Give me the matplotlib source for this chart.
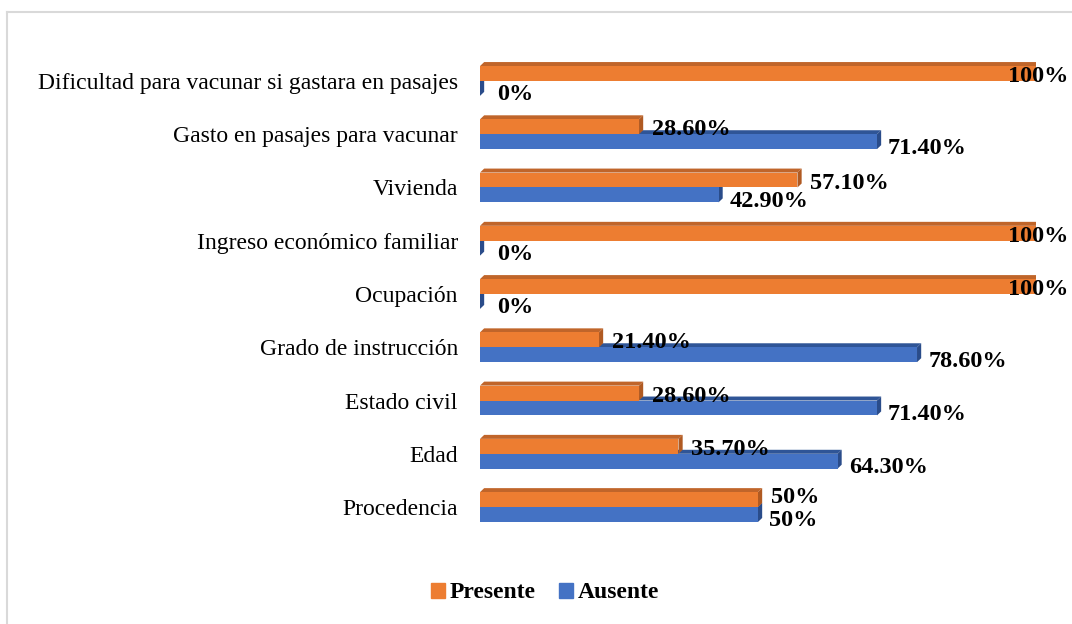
import numpy as np
import matplotlib.pyplot as plt
from matplotlib.patches import Polygon, Patch
from matplotlib.lines import Line2D

# data, bottom to top as drawn
categorias = ['Procedencia', 'Edad', 'Estado civil', 'Grado de instrucción',
              'Ocupación', 'Ingreso económico familiar', 'Vivienda',
              'Gasto en pasajes para vacunar',
              'Dificultad para vacunar si gastara en pasajes']
presente = [50, 35.7, 28.6, 21.4, 100, 100, 57.1, 28.6, 100]
ausente = [50, 64.3, 71.4, 78.6, 0, 0, 42.9, 71.4, 0]
etiq_presente = ['50%', '35.70%', '28.60%', '21.40%', '100%', '100%', '57.10%', '28.60%', '100%']
etiq_ausente = ['50%', '64.30%', '71.40%', '78.60%', '0%', '0%', '42.90%', '71.40%', '0%']

plt.rcParams['font.family'] = ['Liberation Serif', 'DejaVu Serif']

fig = plt.figure(figsize=(10.72, 6.24), dpi=100)
ax = fig.add_axes([480 / 1072, (624 - 539) / 624, 556 / 1072, (539 - 49) / 624])
ax.set_xlim(0, 100)
ax.set_ylim(-0.6, 8.6)

h = 0.28      # bar thickness
dx = 0.75     # 3D depth in x (data units)
dy = 0.075    # 3D depth in y


def bar3d(y0, v, front, top, side):
    # y0 = bottom of the front face
    ax.add_patch(Polygon([(0, y0 + h), (v, y0 + h), (v + dx, y0 + h + dy), (dx, y0 + h + dy)],
                         closed=True, fc=top, ec='none', zorder=2))
    ax.add_patch(Polygon([(v, y0), (v + dx, y0 + dy), (v + dx, y0 + h + dy), (v, y0 + h)],
                         closed=True, fc=side, ec='none', zorder=2))
    ax.barh(y0 + h / 2, v, height=h, color=front, zorder=3)


y = np.arange(len(categorias))
for i in y:
    bar3d(i - h, ausente[i], '#4472C4', '#2F5597', '#2A4C8A')
    bar3d(i, presente[i], '#ED7D31', '#C0652A', '#B05A22')

lab_kw = dict(fontsize=17.5, fontweight='bold', va='center', zorder=5, clip_on=False)
for i in y:
    yo = i + h / 2 - 0.06
    yb = i - h / 2 - 0.12
    if presente[i] == ausente[i]:
        yo += 0.1
    if presente[i] >= 95:
        ax.text(105.8, yo, etiq_presente[i], ha='right', **lab_kw)
    else:
        ax.text(presente[i] + 2.3, yo, etiq_presente[i], ha='left', **lab_kw)
    ax.text(max(ausente[i] + 2.0, 3.0), yb, etiq_ausente[i], ha='left', **lab_kw)

ax.set_yticks(y)
ax.set_yticklabels(categorias, fontsize=17)
ax.tick_params(axis='y', length=0, pad=16)
ax.set_xticks([])
for s in ax.spines.values():
    s.set_visible(False)

handles = [Patch(color='#ED7D31', label='Presente'), Patch(color='#4472C4', label='Ausente')]
fig.legend(handles=handles, loc='center', bbox_to_anchor=(545 / 1072, 1 - 593 / 624),
           ncol=2, frameon=False, prop={'size': 17, 'weight': 'bold'},
           handlelength=0.6, handleheight=0.6, handletextpad=0.2, columnspacing=1.0)

# light frame around the chart area
fig.add_artist(Line2D([6.5 / 1072, 6.5 / 1072], [0, 1 - 11.5 / 624], color='#D9D9D9', lw=1.5))
fig.add_artist(Line2D([6.5 / 1072, 1], [1 - 11.5 / 624, 1 - 11.5 / 624], color='#D9D9D9', lw=1.5))

fig.savefig('out.png', dpi=100)
